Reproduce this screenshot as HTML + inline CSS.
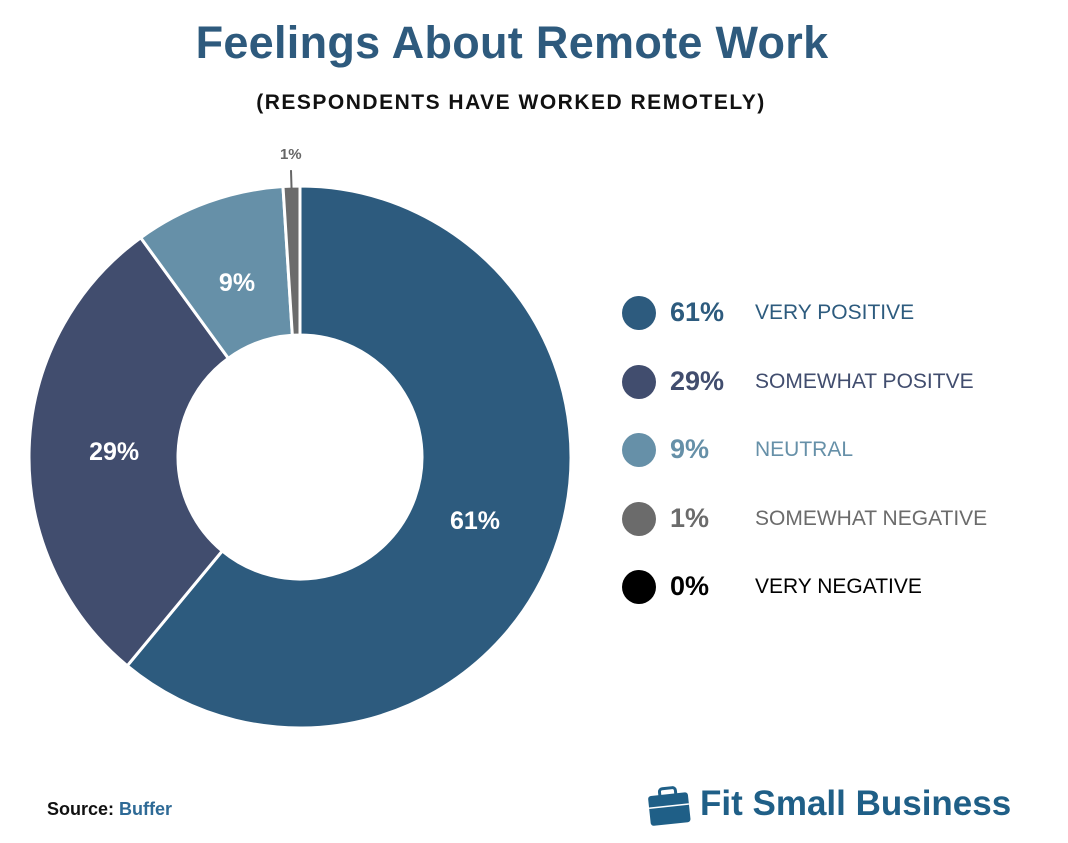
<!DOCTYPE html>
<html><head><meta charset="utf-8"><style>
body{margin:0;background:#fff;font-family:"Liberation Sans",sans-serif;}
#wrap{position:relative;width:1068px;height:843px;overflow:hidden;}
.t{position:absolute;white-space:nowrap;}
</style></head><body>
<div id="wrap">
<div class="t" style="left:0;width:1024px;text-align:center;top:17px;font-size:45px;font-weight:bold;color:#2e5a7d;letter-spacing:0.3px;">Feelings About Remote Work</div>
<div class="t" style="left:0;width:1022px;text-align:center;top:91px;font-size:21px;font-weight:bold;color:#111;letter-spacing:1.5px;">(RESPONDENTS HAVE WORKED REMOTELY)</div>
<svg id="pie" width="1068" height="843" style="position:absolute;left:0;top:0"></svg>
<div id="legend"></div>
<div class="t" style="left:47px;top:799px;font-size:18px;font-weight:bold;color:#111;">Source: <span style="color:#2e6a96">Buffer</span></div>
<svg style="position:absolute;left:645px;top:784px" width="50" height="44">
<g transform="rotate(-6 25 22)"><rect x="4" y="10" width="40" height="30" rx="3" fill="#1f5f87"/><rect x="16" y="4" width="16" height="9" rx="3" fill="none" stroke="#1f5f87" stroke-width="3"/><line x1="4" y1="22" x2="44" y2="22" stroke="#fff" stroke-width="1.5"/></g></svg>
<div class="t" style="left:700px;top:784px;font-size:35px;font-weight:bold;color:#1f5f87;">Fit Small Business</div>
</div>
<script>
const categories=["VERY POSITIVE","SOMEWHAT POSITVE","NEUTRAL","SOMEWHAT NEGATIVE","VERY NEGATIVE"];
const values=[61,29,9,1,0];
const colors=["#2d5b7e","#414d6e","#6690a8","#6b6b6b","#000000"];
const ns="http://www.w3.org/2000/svg";
const svg=document.getElementById('pie');
const cx=300,cy=457,R=271,r=122;
const total=values.reduce((a,b)=>a+b,0);
function pt(a,rad){return [cx+rad*Math.sin(a),cy-rad*Math.cos(a)];}
let acc=0;
values.forEach((v,i)=>{
  if(v<=0)return;
  const a0=acc/total*2*Math.PI;acc+=v;const a1=acc/total*2*Math.PI;
  const lg=(a1-a0)>Math.PI?1:0;
  const p0=pt(a0,R),p1=pt(a1,R),q1=pt(a1,r),q0=pt(a0,r);
  const p=document.createElementNS(ns,'path');
  p.setAttribute('d',`M${p0}A${R},${R} 0 ${lg} 1 ${p1}L${q1}A${r},${r} 0 ${lg} 0 ${q0}Z`);
  p.setAttribute('fill',colors[i]);p.setAttribute('stroke','#fff');p.setAttribute('stroke-width','3');
  
  
  svg.appendChild(p);
  const am=(a0+a1)/2;
  const t=document.createElementNS(ns,'text');
  if(v>=5){const c=pt(am,186);t.setAttribute('x',c[0]);t.setAttribute('y',c[1]+9);t.setAttribute('font-size','25');t.setAttribute('fill','#fff');}
  else{const c=pt(am,R+22);t.setAttribute('x',c[0]);t.setAttribute('y',c[1]-5);t.setAttribute('font-size','15');t.setAttribute('fill','#666');
    const l=document.createElementNS(ns,'line');const a=pt(am,R-2),b=pt(am,R+16);
    l.setAttribute('x1',a[0]);l.setAttribute('y1',a[1]);l.setAttribute('x2',b[0]);l.setAttribute('y2',b[1]);l.setAttribute('stroke','#666');l.setAttribute('stroke-width','2');
    
    
    svg.appendChild(l);}
  t.setAttribute('text-anchor','middle');t.setAttribute('font-weight','bold');t.setAttribute('font-family','Liberation Sans, sans-serif');
  t.textContent=v+'%';
  
  
  svg.appendChild(t);
});
const lg=document.getElementById('legend');
categories.forEach((c,i)=>{
  const y=313+i*68.5;
  const d=document.createElement('div');
  
  
  d.innerHTML=`<div style="position:absolute;left:622px;top:${y-17}px;width:34px;height:34px;border-radius:50%;background:${colors[i]}"></div>
<div class="t" style="left:670px;top:${y-16}px;font-size:27px;font-weight:bold;color:${colors[i]}">${values[i]}%</div>
<div class="t" style="left:755px;top:${y-12}px;font-size:21px;color:${colors[i]}">${c}</div>`;
  lg.appendChild(d);
});
</script>
</body></html>
